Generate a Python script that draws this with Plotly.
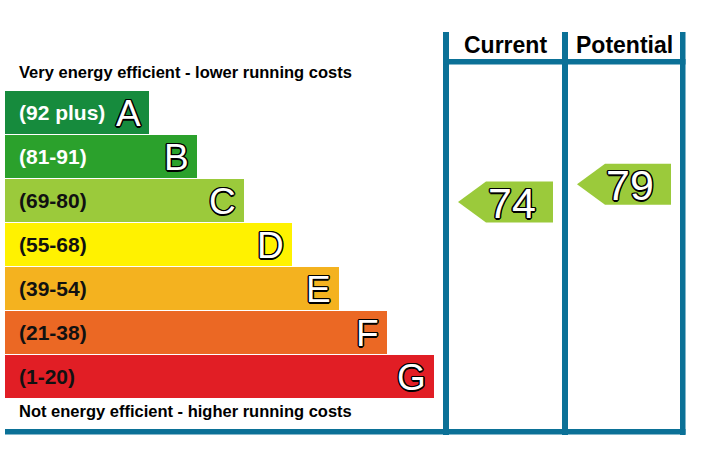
import plotly.graph_objects as go

# ---- data ----
band_letters = ["A", "B", "C", "D", "E", "F", "G"]
band_ranges = ["(92 plus)", "(81-91)", "(69-80)", "(55-68)", "(39-54)", "(21-38)", "(1-20)"]
band_lo = [92, 81, 69, 55, 39, 21, 1]
band_hi = [100, 91, 80, 68, 54, 38, 20]
band_colors = ["#168b3d", "#2ba12c", "#9bca3b", "#fff200", "#f4b21f", "#eb6824", "#e11e25"]
label_colors = ["#ffffff", "#ffffff", "#111111", "#111111", "#111111", "#111111", "#111111"]
column_titles = ["Current", "Potential"]
ratings = [74, 79]
top_text = "Very energy efficient - lower running costs"
bottom_text = "Not energy efficient - higher running costs"

# ---- layout constants (pixel space) ----
W, H = 705, 457
BLUE = "#0b7197"
FONT = "Liberation Sans, Arial, sans-serif"
band_top0, band_pitch, band_h = 91, 44, 42.5
bar_left = 5
bar_len0, bar_step = 144, 47.5
cols = [(449, 562), (568, 680)]
outline = ", ".join(f"{dx}px {dy}px 0 #000" for dx, dy in
                    [(1.5, 0), (-1.5, 0), (0, 1.5), (0, -1.5), (1.1, 1.1), (-1.1, -1.1), (1.1, -1.1), (-1.1, 1.1)])


def band_index(v):
    for i, (lo, hi) in enumerate(zip(band_lo, band_hi)):
        if lo <= v <= hi:
            return i
    return len(band_lo) - 1


def rating_y(v):
    i = band_index(v)
    lo, hi = band_lo[i], band_hi[i]
    top = band_top0 + i * band_pitch
    return top + (hi - v + 0.5) / (hi - lo + 1) * band_h


fig = go.Figure()

centers = [band_top0 + i * band_pitch + band_h / 2 for i in range(len(band_letters))]
lengths = [bar_len0 + bar_step * i for i in range(len(band_letters))]

fig.add_trace(go.Bar(
    y=centers, x=lengths, base=bar_left, orientation="h", width=band_h,
    marker=dict(color=band_colors, line=dict(width=0)),
    hoverinfo="skip", showlegend=False,
))

annotations = []
for i in range(len(band_letters)):
    annotations.append(dict(
        x=17, y=centers[i] + 0.5, xref="x", yref="y", xanchor="left", yanchor="middle",
        text=band_ranges[i], showarrow=False,
        font=dict(family=FONT, size=21, color=label_colors[i], weight="bold"),
    ))
    annotations.append(dict(
        x=bar_left + lengths[i] - 6, y=centers[i] + 1, xref="x", yref="y",
        xanchor="right", yanchor="middle",
        text=band_letters[i], showarrow=False,
        font=dict(family=FONT, size=37, color="#ffffff", shadow=outline),
    ))

annotations.append(dict(x=17, y=72, xref="x", yref="y", xanchor="left", yanchor="middle",
                        text=top_text, showarrow=False,
                        font=dict(family=FONT, size=16.5, color="#000000", weight="bold")))
annotations.append(dict(x=17, y=411, xref="x", yref="y", xanchor="left", yanchor="middle",
                        text=bottom_text, showarrow=False,
                        font=dict(family=FONT, size=16.5, color="#000000", weight="bold")))

for (cl, cr), title in zip(cols, column_titles):
    annotations.append(dict(x=(cl + cr) / 2, y=45, xref="x", yref="y", xanchor="center",
                            yanchor="middle", text=title, showarrow=False,
                            font=dict(family=FONT, size=23, color="#000000", weight="bold")))

# rating arrows
for (cl, cr), v in zip(cols, ratings):
    yc = rating_y(v)
    tip = cl + 9
    notch = tip + 28
    right = cr - 9
    hh = 20.5
    col = band_colors[band_index(v)]
    fig.add_trace(go.Scatter(
        x=[tip, notch, right, right, notch, tip],
        y=[yc, yc - hh, yc - hh, yc + hh, yc + hh, yc],
        mode="lines", fill="toself", fillcolor=col, line=dict(width=0, color=col),
        hoverinfo="skip", showlegend=False,
    ))
    annotations.append(dict(x=(tip + right) / 2 + 6, y=yc + 0.5, xref="x", yref="y",
                            xanchor="center", yanchor="middle", text=str(v), showarrow=False,
                            font=dict(family=FONT, size=43, color="#ffffff", shadow=outline)))

# frame lines
shapes = []
def rect(x0, y0, x1, y1):
    shapes.append(dict(type="rect", xref="x", yref="y", x0=x0, y0=y0, x1=x1, y1=y1,
                       fillcolor=BLUE, line=dict(width=0), layer="above"))

rect(443, 32, 449, 435)
rect(562, 32, 568, 435)
rect(680, 32, 685.5, 435)
rect(443, 59, 685.5, 64.5)
rect(5, 429, 685.5, 434.5)

fig.update_layout(
    width=W, height=H, margin=dict(l=0, r=0, t=0, b=0),
    paper_bgcolor="#ffffff", plot_bgcolor="#ffffff",
    xaxis=dict(range=[0, W], visible=False, fixedrange=True),
    yaxis=dict(range=[H, 0], visible=False, fixedrange=True),
    annotations=annotations, shapes=shapes, bargap=0,
    showlegend=False,
)

fig.write_html("out.html", config={"displayModeBar": False})
